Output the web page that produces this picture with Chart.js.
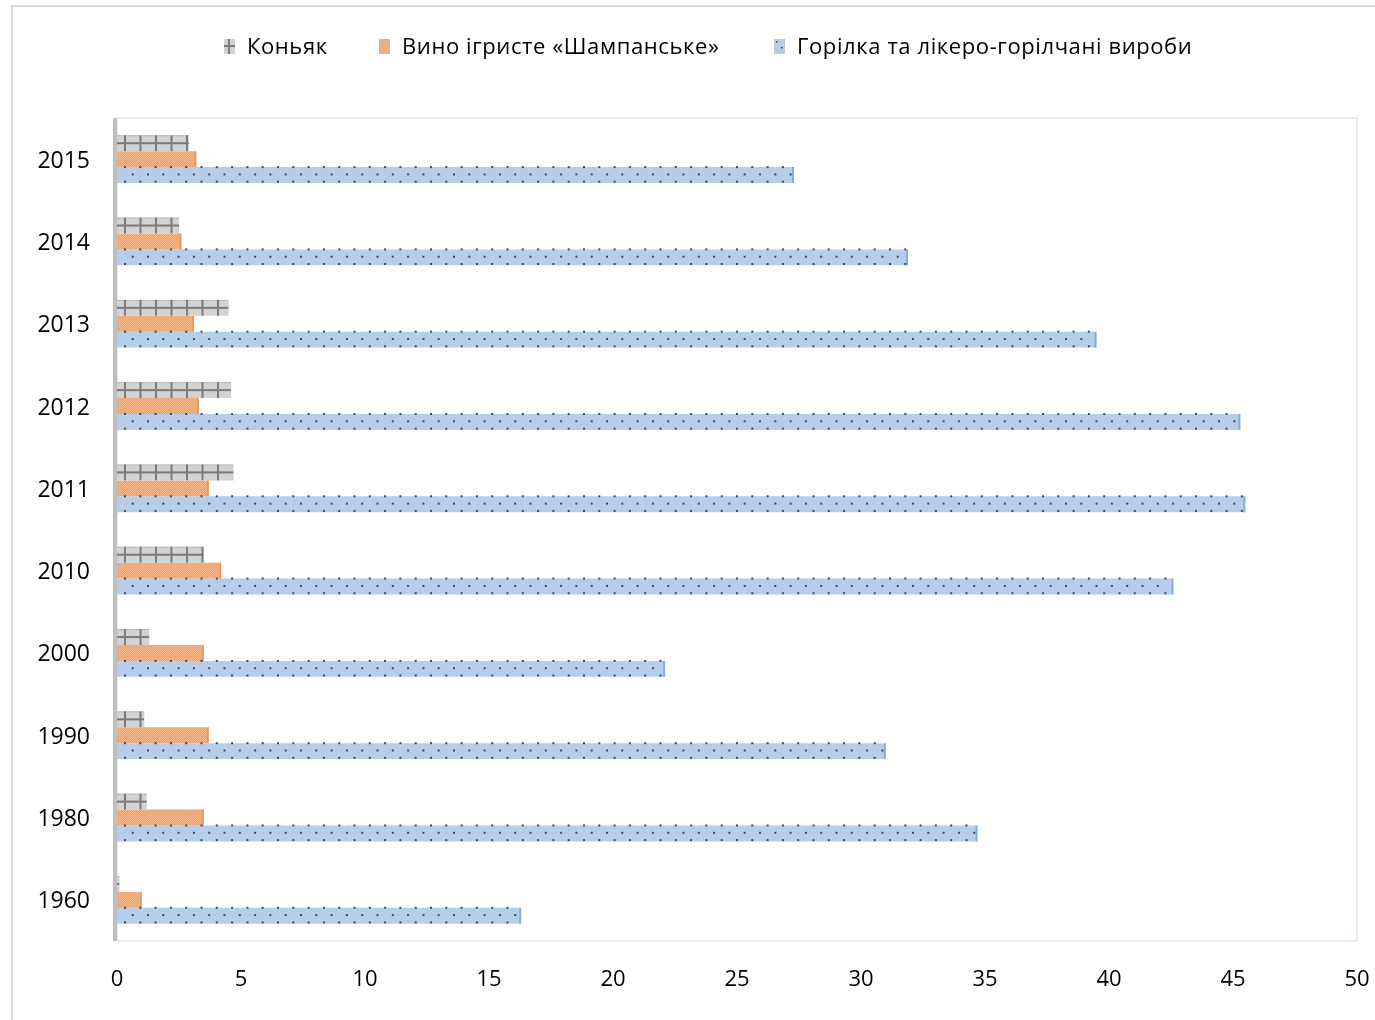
<!DOCTYPE html>
<html>
<head>
<meta charset="utf-8">
<script src="https://cdn.jsdelivr.net/npm/chart.js@4.4.1/dist/chart.umd.min.js"></script>
<style>
  html, body { margin: 0; padding: 0; background: #ffffff; }
  #wrap { position: relative; width: 1375px; height: 1020px; }
</style>
</head>
<body>
<div id="wrap"><canvas id="c" width="1375" height="1020"></canvas></div>
<script>
// Years, top to bottom
const years = ['2015', '2014', '2013', '2012', '2011', '2010', '2000', '1990', '1980', '1960'];

// Series values
const cognac    = [2.9, 2.5, 4.5, 4.6, 4.7, 3.5, 1.3, 1.1, 1.2, 0.1];
const champagne = [3.2, 2.6, 3.1, 3.3, 3.7, 4.2, 3.5, 3.7, 3.5, 1.0];
const vodka     = [27.3, 31.9, 39.5, 45.3, 45.5, 42.6, 22.1, 31.0, 34.7, 16.3];

const seriesNames = ['Коньяк', 'Вино ігристе «Шампанське»', 'Горілка та лікеро-горілчані вироби'];

// Value axis ticks
const xTicks = [0, 5, 10, 15, 20, 25, 30, 35, 40, 45, 50];

const FONT = '"Open Sans", "DejaVu Sans", sans-serif';
const fills = ['#cdcdcd', '#f3a066', '#abc8ec'];
const styles = ['grid', 'plain', 'dots'];

// fine grain texture laid over every bar
function makeGrain(ctx) {
  const c = document.createElement('canvas');
  c.width = 2; c.height = 2;
  const g = c.getContext('2d');
  g.fillStyle = 'rgba(255,255,255,0.22)';
  g.fillRect(0, 0, 1, 1);
  g.fillRect(1, 1, 1, 1);
  return ctx.createPattern(c, 'repeat');
}

function decorate(ctx, style, left, top, w, h, grain) {
  const right = left + w, bottom = top + h;
  ctx.save();
  ctx.beginPath();
  ctx.rect(left, top - 2, w, h + 3);
  ctx.clip();
  ctx.fillStyle = grain;
  ctx.fillRect(left, top, w, h);
  if (style === 'grid') {
    ctx.fillStyle = '#7a7a7a';
    for (let px = left + 8; px < right - 1; px += 15.5) ctx.fillRect(px - 1, top, 2, h);
    ctx.fillRect(left, top + h / 2 - 1, w, 2);
    ctx.fillStyle = 'rgba(128,128,128,0.35)';
    ctx.fillRect(left, top, w, 1);
  } else if (style === 'dots') {
    ctx.fillStyle = '#3f4a5c';
    let r = 0;
    for (let yy = top; yy <= bottom + 0.5; yy += 7.3, r++) {
      const off = (r % 2 === 0) ? 8 : 15.7;
      for (let xx = left + off; xx < right - 2; xx += 15.3) ctx.fillRect(xx - 1, yy - 1, 2, 2);
    }
    ctx.fillStyle = 'rgba(110,155,215,0.7)';
    ctx.fillRect(right - 2, top, 2, h);
  } else {
    ctx.fillStyle = 'rgba(230,120,50,0.55)';
    ctx.fillRect(right - 1.5, top, 1.5, h);
  }
  ctx.restore();
}

const barTexture = {
  id: 'barTexture',
  afterDatasetsDraw(chart) {
    const ctx = chart.ctx;
    const grain = makeGrain(ctx);
    chart.data.datasets.forEach((ds, di) => {
      const meta = chart.getDatasetMeta(di);
      meta.data.forEach(el => {
        const p = el.getProps(['x', 'y', 'base', 'height'], true);
        const left = Math.min(p.base, p.x), w = Math.abs(p.x - p.base);
        if (w <= 0) return;
        decorate(ctx, styles[di], left, p.y - p.height / 2, w, p.height, grain);
      });
    });
  }
};

const frame = {
  id: 'frame',
  beforeDraw(chart) {
    const ctx = chart.ctx, a = chart.chartArea;
    ctx.save();
    ctx.fillStyle = '#ffffff';
    ctx.fillRect(0, 0, chart.width, chart.height);
    // outer chart border
    ctx.strokeStyle = '#d9d9d9';
    ctx.lineWidth = 2;
    ctx.beginPath();
    ctx.moveTo(12, chart.height + 2);
    ctx.lineTo(12, 6);
    ctx.lineTo(chart.width + 2, 6);
    ctx.stroke();
    // plot area frame
    ctx.strokeStyle = '#dde8f5';
    ctx.lineWidth = 1.5;
    ctx.strokeRect(a.left, a.top, a.right - a.left, a.bottom - a.top);
    ctx.restore();
  },
  afterDatasetsDraw(chart) {
    const ctx = chart.ctx, a = chart.chartArea;
    ctx.save();
    ctx.fillStyle = '#bfbfbf';
    ctx.fillRect(a.left - 4, a.top, 4, a.bottom - a.top);
    ctx.restore();
  }
};

const legendBar = {
  id: 'legendBar',
  afterDraw(chart) {
    const ctx = chart.ctx;
    const grain = makeGrain(ctx);
    const xs = [224, 379, 774];
    ctx.save();
    ctx.font = '22px ' + FONT;
    if ('letterSpacing' in ctx) ctx.letterSpacing = '0.6px';
    ctx.textBaseline = 'middle';
    ctx.textAlign = 'left';
    chart.data.datasets.forEach((ds, i) => {
      const sx = xs[i];
      ctx.fillStyle = fills[i];
      ctx.fillRect(sx, 39, 11, 15);
      ctx.save();
      ctx.beginPath(); ctx.rect(sx, 39, 11, 15); ctx.clip();
      ctx.fillStyle = grain; ctx.fillRect(sx, 39, 11, 15);
      if (i === 0) {
        ctx.fillStyle = '#7a7a7a';
        ctx.fillRect(sx + 4, 39, 2, 15);
        ctx.fillRect(sx, 45, 11, 2);
      } else if (i === 2) {
        ctx.fillStyle = '#3f4a5c';
        ctx.fillRect(sx + 2, 41, 1.5, 1.5);
        ctx.fillRect(sx + 7, 47, 1.5, 1.5);
      }
      ctx.restore();
      ctx.fillStyle = '#000000';
      ctx.fillText(ds.label, sx + 23, 48);
    });
    ctx.restore();
  }
};

new Chart(document.getElementById('c'), {
  type: 'bar',
  data: {
    labels: years,
    datasets: [
      { label: seriesNames[0], data: cognac,    backgroundColor: fills[0] },
      { label: seriesNames[1], data: champagne, backgroundColor: fills[1] },
      { label: seriesNames[2], data: vodka,     backgroundColor: fills[2] }
    ]
  },
  options: {
    indexAxis: 'y',
    responsive: false,
    animation: false,
    devicePixelRatio: 1,
    categoryPercentage: 0.58,
    barPercentage: 1.0,
    layout: { padding: { top: 118, right: 18, left: 0, bottom: 0 } },
    plugins: { legend: { display: false }, tooltip: { enabled: false } },
    scales: {
      x: {
        type: 'linear',
        min: 0, max: 50,
        afterBuildTicks(scale) { scale.ticks = xTicks.map(v => ({ value: v })); },
        afterFit(scale) { scale.height = 79; scale.paddingRight = 0; scale.paddingLeft = 0; },
        grid: { display: false, drawTicks: false },
        border: { display: false },
        ticks: { color: '#000000', padding: 26, font: { family: FONT, size: 22 } }
      },
      y: {
        type: 'category',
        afterFit(scale) { scale.width = 117; scale.paddingTop = 0; scale.paddingBottom = 0; },
        grid: { display: false, drawTicks: false },
        border: { display: false },
        ticks: { color: '#000000', padding: 27, labelOffset: 2, font: { family: FONT, size: 23 } }
      }
    }
  },
  plugins: [frame, barTexture, legendBar]
});
</script>
</body>
</html>
